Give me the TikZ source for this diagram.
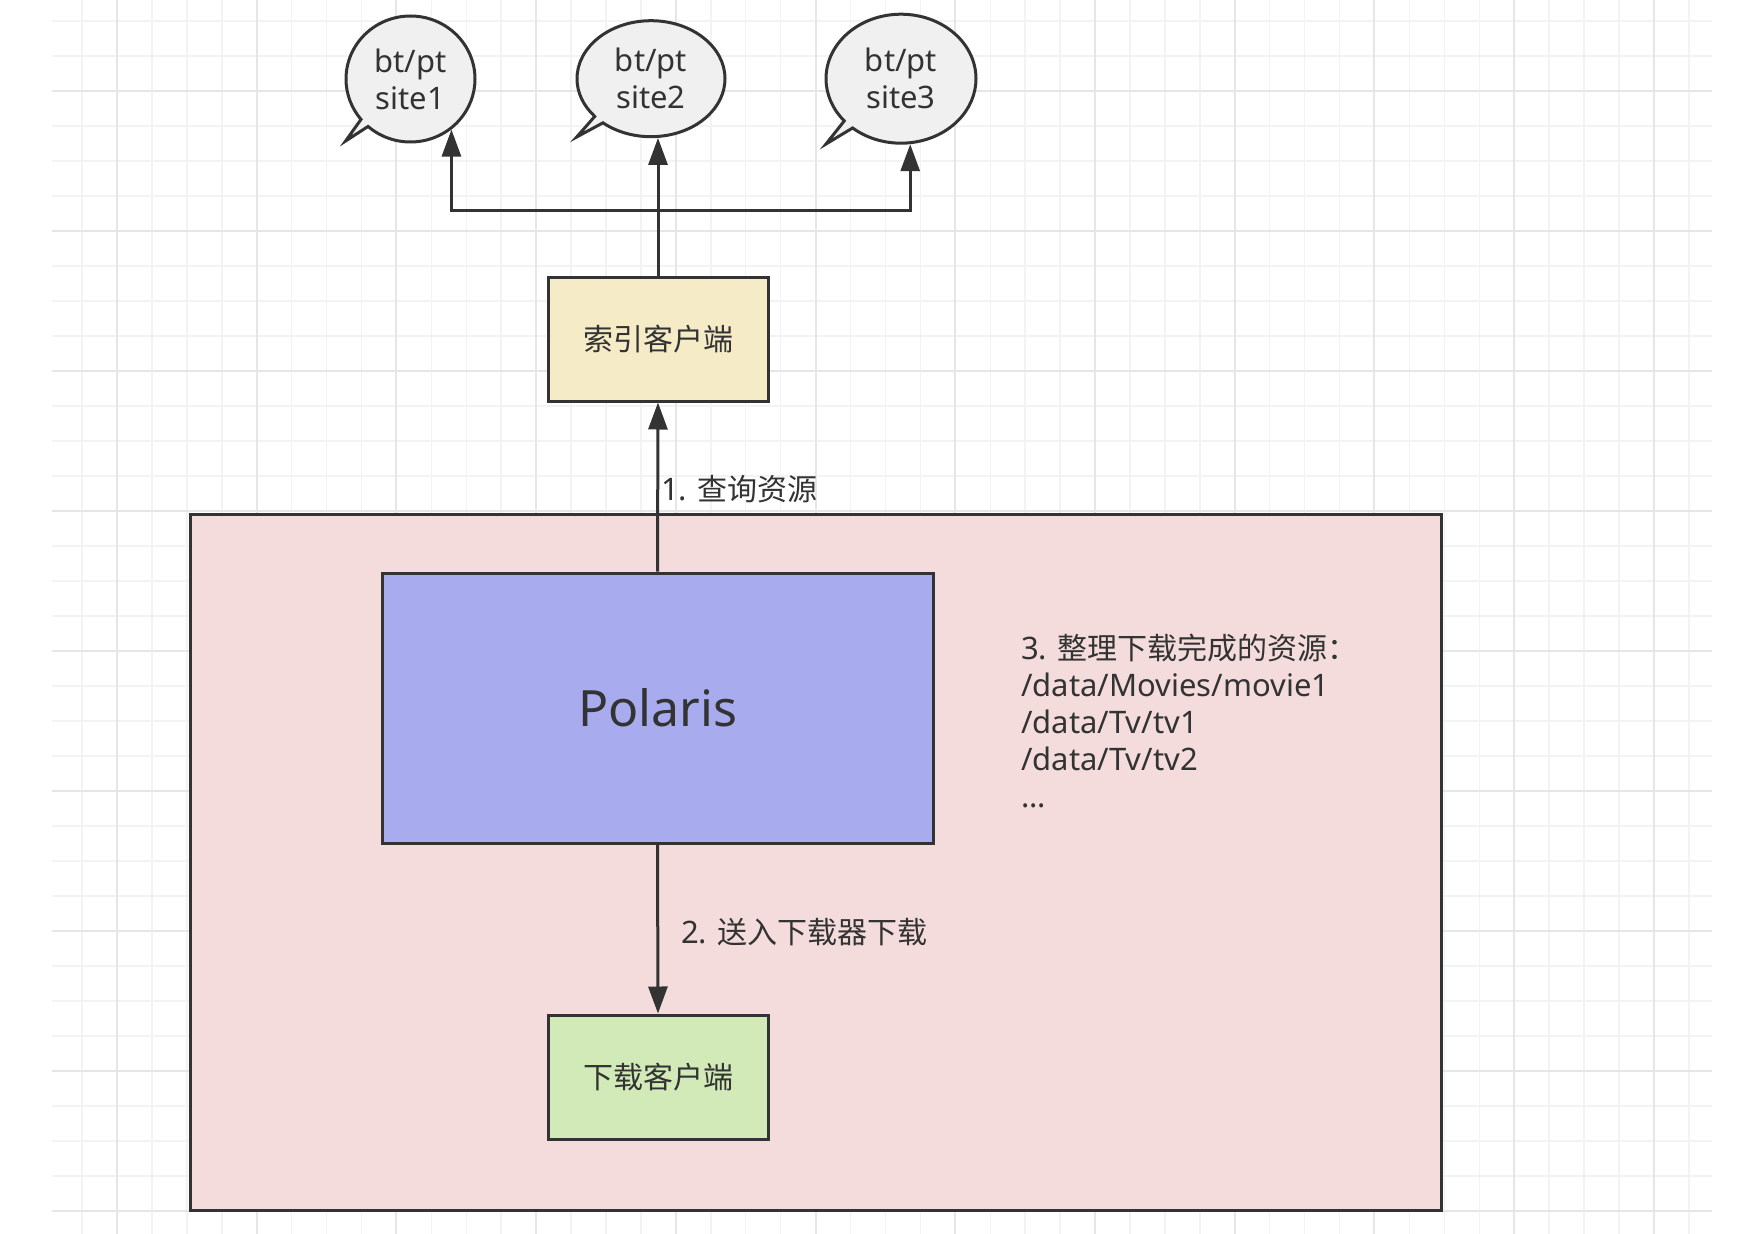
\documentclass[tikz,border=0pt]{standalone}
\usepackage{fontspec}
\setmainfont{Noto Sans}
\newfontfamily\cjk{Noto Sans CJK SC}
\usetikzlibrary{shapes.callouts,arrows.meta}
\definecolor{lc}{HTML}{333333}
\definecolor{bubc}{HTML}{F0F0F0}
\definecolor{idxc}{HTML}{F5ECC7}
\definecolor{polc}{HTML}{A8ACEE}
\definecolor{hostc}{HTML}{F4DCDC}
\definecolor{dlc}{HTML}{D1EAB8}
\definecolor{gmin}{HTML}{F3F3F3}
\definecolor{gmaj}{HTML}{E6E6E6}
\newcommand\fsz{\fontsize{31}{37}\selectfont}
\newcommand\zh[1]{{\cjk\fontsize{30}{37}\selectfont #1}}
\begin{document}
\begin{tikzpicture}[x=1pt,y=-1pt,
  gminor/.style={draw=gmin,line width=1.5pt},
  gmajor/.style={draw=gmaj,line width=2pt},
  boxn/.style={draw=lc,line width=3pt,inner sep=0pt,text=lc,font=\fsz},
  bubble/.style={ellipse callout,draw=lc,fill=bubc,line width=3pt,inner sep=0pt,
     align=center,text=lc,font=\fsz,callout pointer arc=9},
  arr/.style={draw=lc,line width=3pt,-{Triangle[length=27pt,width=19pt]}},
  lbl/.style={inner sep=0pt,text=lc,font=\fsz}]
\fill[white] (0,0) rectangle (1738,1234);
\useasboundingbox (0,0) rectangle (1738,1234);
% grid
\foreach \k in {-1,...,45} \draw[gminor] ({117+34.93*\k},0) -- ({117+34.93*\k},1234);
\foreach \k in {-2,...,32} \draw[gminor] (52,{91+35*\k}) -- (1712,{91+35*\k});
\foreach \k in {0,...,11} \draw[gmajor] ({117+139.72*\k},0) -- ({117+139.72*\k},1234);
\foreach \k in {0,...,8} \draw[gmajor] (52,{91+140*\k}) -- (1712,{91+140*\k});
% container
\node[boxn,fill=hostc,minimum width=1251,minimum height=696] (host) at (816.3,862.4) {};
\node[boxn,fill=polc,minimum width=551,minimum height=270,font=\fontsize{50}{58}\selectfont] (pol) at (657.5,708.2) {Polaris};
\node[boxn,fill=idxc,minimum width=220,minimum height=124] (idx) at (658,339) {\zh{索引客户端}};
\node[boxn,fill=dlc,minimum width=220,minimum height=124] (dl) at (658,1077) {\zh{下载客户端}};
% bubbles
\node[bubble,minimum width=129,minimum height=126,callout absolute pointer={(345.6,141)}] (s1) at (410.5,79) {bt/pt\\site1};
\node[bubble,minimum width=148,minimum height=116,callout absolute pointer={(576.7,137)}] (s2) at (651,78.7) {bt/pt\\site2};
\node[bubble,minimum width=150,minimum height=129,callout absolute pointer={(826,144)}] (s3) at (901,78.7) {bt/pt\\site3};
% connectors
\coordinate (j) at (658,210.6);
\draw[arr] (pol.north) -- (idx.south);
\draw[arr] (pol.south) -- (dl.north);
\draw[arr] (idx.north) -- (idx.north |- s2.-83.1);
\draw[arr] (idx.north) -- (j) -| (s1.-51.6);
\draw[arr] (idx.north) -- (j) -| (s3.-82);
% labels
\node[lbl,anchor=west] (l1) at (661,489) {1. \zh{查询资源}};
\node[lbl,anchor=west] (l2) at (681,932) {2. \zh{送入下载器下载}};
\node[lbl,anchor=west,align=left] (note) at (1021,721) {3. \zh{整理下载完成的资源：}\\/data/Movies/movie1\\/data/Tv/tv1\\/data/Tv/tv2\\...};
\end{tikzpicture}
\end{document}
